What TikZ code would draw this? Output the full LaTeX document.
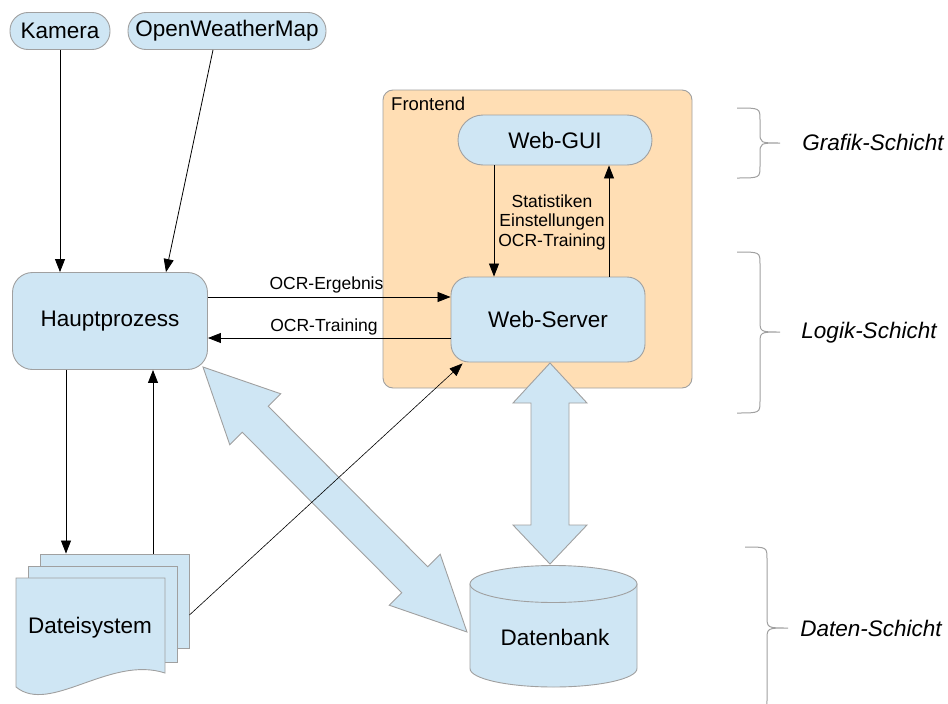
\documentclass[tikz,border=0pt]{standalone}
\usepackage{fontspec}
\setmainfont{Liberation Sans}
\usetikzlibrary{arrows.meta,calc}
\definecolor{boxblue}{RGB}{207,230,244}
\definecolor{boxline}{RGB}{160,160,160}
\definecolor{peach}{RGB}{255,222,180}
\begin{document}
\begin{tikzpicture}[x=1pt,y=-1pt,
  box/.style={draw=boxline, fill=boxblue, line width=0.9pt, inner sep=0pt, font=\fontsize{22.5}{26}\selectfont},
  shapeline/.style={draw=boxline, fill=boxblue, line width=0.9pt},
  arr/.style={-{Triangle[length=13pt,width=10pt]}, line width=0.8pt, black},
  lbl/.style={font=\fontsize{17.5}{19.5}\selectfont, inner sep=0pt, align=center},
  layer/.style={font=\fontsize{22.5}{26}\selectfont\itshape, inner sep=0pt},
  bracel/.style={draw=boxline, line width=1pt}]
\useasboundingbox (0,0) rectangle (948,704);

% top sources
\node[box, rounded corners=18pt, minimum width=100pt, minimum height=37pt] (kam) at (60,31) {Kamera};
\node[box, rounded corners=18pt, minimum width=198pt, minimum height=37pt] (owm) at (227,31) {OpenWeatherMap};

% main process
\node[box, rounded corners=20pt, minimum width=195pt, minimum height=97pt] (hp) at (110,321) {Hauptprozess};

% frontend
\node[draw=boxline, fill=peach, rounded corners=10pt, minimum width=309pt, minimum height=298pt, line width=0.9pt] (fe) at (537.5,239) {};
\node[anchor=west, inner sep=0pt, font=\fontsize{18.5}{22}\selectfont] (fel) at (391,104) {Frontend};
\node[box, rounded corners=25pt, minimum width=194pt, minimum height=50pt] (gui) at (555,140) {Web-GUI};
\node[box, rounded corners=18pt, minimum width=194pt, minimum height=85pt] (ws) at (548,319.5) {Web-Server};

% Dateisystem (stacked documents)
\node[shapeline, minimum width=149pt, minimum height=94pt] (fs3) at (114.5,601) {};
\node[shapeline, minimum width=149pt, minimum height=96pt] (fs2) at (102.5,614) {};
\draw[shapeline] (16,578) -- (165,578) -- (165,673) .. controls (110,655) and (50,715) .. (16,687) -- cycle;
\node[inner sep=0pt, font=\fontsize{22.5}{26}\selectfont] (fs) at (90,628) {Dateisystem};

% Datenbank (cylinder)
\draw[shapeline] (470,584) -- (470,668.5) .. controls (470,678.7) and (507.4,687) .. (553.5,687)
  .. controls (599.6,687) and (637,678.7) .. (637,668.5) -- (637,584) -- cycle;
\draw[shapeline] (553.5,584) ellipse [x radius=83.5pt, y radius=18.5pt];
\node[inner sep=0pt, font=\fontsize{22.5}{26}\selectfont] (db) at (555,637) {Datenbank};

% block arrows
\draw[shapeline] (550,363) -- (587,403) -- (569,403) -- (569,525) -- (587,525) -- (550,564)
  -- (513,525) -- (531,525) -- (531,403) -- (513,403) -- cycle;
\draw[shapeline] (203,367) -- (280.8,393.8) -- (268.3,406.3) -- (427.7,566.7) -- (440.2,554.2) -- (467,632)
  -- (389.2,605.2) -- (401.7,592.7) -- (242.3,432.3) -- (229.8,444.8) -- cycle;

% connectors
\draw[arr] (kam.south) -- (kam.south |- hp.north);
\draw[arr] ([xshift=-14pt]owm.south) -- ([xshift=56pt]hp.north);
\draw[arr] ([yshift=24pt]hp.east) -- ([yshift=24pt]hp.east -| ws.west);
\draw[arr] ([yshift=-17pt]hp.east -| ws.west) -- ([yshift=-17pt]hp.east);
\node[lbl] (l1) at (326.5,285) {OCR-Ergebnis};
\node[lbl] (l2) at (324,327) {OCR-Training};

\draw[arr] ([xshift=-61pt]gui.south) -- ([xshift=-61pt]gui.south |- ws.north);
\draw[arr] ([xshift=54pt]gui.south |- ws.north) -- ([xshift=54pt]gui.south);
\node[lbl] (l3) at (552,222) {Statistiken\\Einstellungen\\OCR-Training};

\draw[arr] ([xshift=-44pt]hp.south) -- ([xshift=-44pt]hp.south |- fs3.north);
\draw[arr] ([xshift=43pt]hp.south |- fs3.north) -- ([xshift=43pt]hp.south);
\draw[arr, line width=0.6pt] ([yshift=-14pt]fs3.east) -- ([xshift=12pt,yshift=-1pt]ws.south west);

% braces
\draw[bracel] (737,108) .. controls (760,108) .. (760,120) -- (760,132) .. controls (760,143) .. (780,143)
  .. controls (760,143) .. (760,154) -- (760,166) .. controls (760,178) .. (737,178);
\draw[bracel] (737,252) .. controls (760,252) .. (760,264) -- (760,320) .. controls (760,332) .. (780,332)
  .. controls (760,332) .. (760,344) -- (760,401) .. controls (760,413) .. (737,413);
\draw[bracel] (745,547) .. controls (767,547) .. (767,559) -- (767,616) .. controls (767,628) .. (788,628)
  .. controls (767,628) .. (767,640) -- (767,700) .. controls (767,712) .. (745,712);
\node[layer] (g) at (873,142) {Grafik-Schicht};
\node[layer] (lg) at (869,333) {Logik-Schicht};
\node[layer] (d) at (871,628) {Daten-Schicht};
\end{tikzpicture}
\end{document}
